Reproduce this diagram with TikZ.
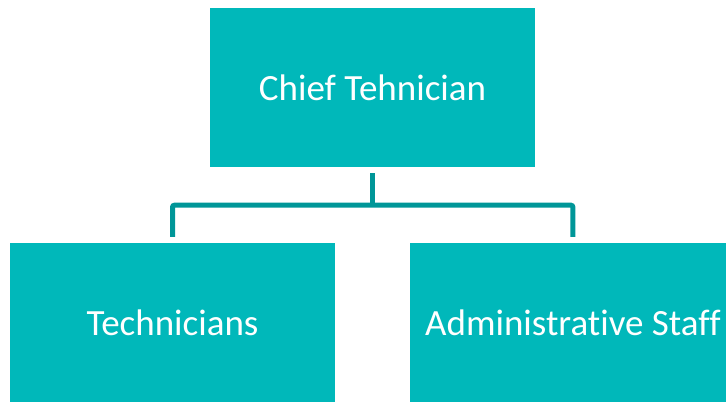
\documentclass[tikz,border=0pt]{standalone}
\usepackage{fontspec}
\setmainfont{Carlito}[Ligatures=NoCommon]
\usepackage{tikz}
\usetikzlibrary{positioning}

\definecolor{boxteal}{RGB}{0,184,186}
\definecolor{lineteal}{RGB}{0,150,152}

\begin{document}
\begin{tikzpicture}[
    x=1pt, y=-1pt,
    staffnode/.style={rectangle, fill=boxteal, text=white, minimum width=325pt, minimum height=159pt, font=\fontsize{37}{41}\selectfont, inner sep=0pt},
    link/.style={draw=lineteal, line width=5pt, rounded corners=2pt},
]
\useasboundingbox (0,0) rectangle (726,403);
\node[staffnode](chief) at (372.5,87.5){Chief Tehnician};
\node[staffnode](tech) at (172.5,322.5){Technicians};
\node[staffnode](admin)[right = 75pt of tech]{Administrative Staff};
\coordinate (bus) at ([yshift=-38pt]chief.south);
\draw[link] ([yshift=-6pt]chief.south) -- (bus);
\draw[link] ([yshift=6pt]tech.north) |- (bus) -| ([yshift=6pt]admin.north);
\end{tikzpicture}
\end{document}
